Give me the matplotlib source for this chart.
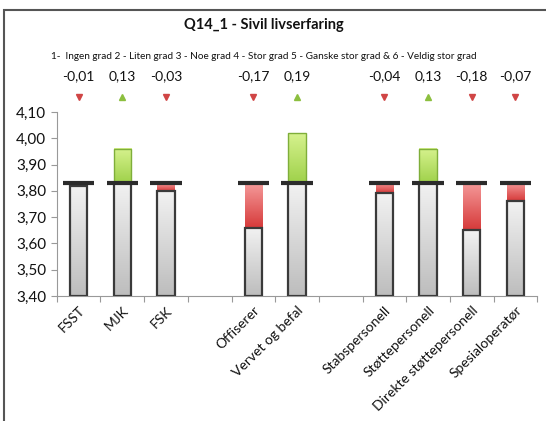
import numpy as np
import matplotlib.pyplot as plt
from matplotlib.patches import Rectangle
from matplotlib.transforms import blended_transform_factory

plt.rcParams['font.family'] = ['Lato', 'DejaVu Sans']

# slots on the x axis, empty strings are gaps between groups
categories = ['FSST', 'MJK', 'FSK', '', 'Offiserer', 'Vervet og befal', '',
              'Stabspersonell', 'Støttepersonell', 'Direkte støttepersonell', 'Spesialoperatør']
values = [3.82, 3.96, 3.80, None, 3.66, 4.02, None, 3.79, 3.96, 3.65, 3.76]
deltas = [-0.01, 0.13, -0.03, None, -0.17, 0.19, None, -0.04, 0.13, -0.18, -0.07]
mean_value = 3.83
y_ticks = [3.40, 3.50, 3.60, 3.70, 3.80, 3.90, 4.00, 4.10]

title = 'Q14_1 - Sivil livserfaring'
scale_text = '1-  Ingen grad 2 - Liten grad 3 - Noe grad 4 - Stor grad 5 - Ganske stor grad & 6 - Veldig stor grad'

fig = plt.figure(figsize=(5.46, 4.21), dpi=100)
ax = fig.add_axes([0.104, 0.297, 0.880, 0.437])

ymin, ymax = 3.40, 4.10
bar_w = 0.40
line_w = 0.72


def gradient_bar(x, y0, y1, top_color, bottom_color):
    lo, hi = min(y0, y1), max(y0, y1)
    grad = np.linspace(0, 1, 64).reshape(-1, 1)
    c_top = np.array(plt.matplotlib.colors.to_rgb(top_color))
    c_bot = np.array(plt.matplotlib.colors.to_rgb(bottom_color))
    img = c_top * (1 - grad[..., None]) + c_bot * grad[..., None]
    ax.imshow(img, extent=[x - bar_w / 2, x + bar_w / 2, lo, hi], origin='upper',
              aspect='auto', zorder=2, interpolation='bilinear')


for i, v in enumerate(values):
    if v is None:
        continue
    base_top = min(v, mean_value)
    gradient_bar(i, ymin, base_top, '#f2f2f2', '#bdbdbd')
    ax.add_patch(Rectangle((i - bar_w / 2, ymin), bar_w, base_top - ymin, fill=False,
                           edgecolor='#3a3a3a', linewidth=1.6, zorder=3))
    if v > mean_value:
        gradient_bar(i, mean_value, v, '#d6f28e', '#9fd14a')
        ax.add_patch(Rectangle((i - bar_w / 2, mean_value), bar_w, v - mean_value, fill=False,
                               edgecolor='#7fae3a', linewidth=1.0, zorder=3))
    elif v < mean_value:
        gradient_bar(i, mean_value, v, '#f59a9a', '#d63a3a')
    ax.plot([i - line_w / 2, i + line_w / 2], [mean_value, mean_value],
            color='#2b2b2b', linewidth=3, solid_capstyle='butt', zorder=4)

# deltas and arrows above the plot
trans = blended_transform_factory(ax.transData, ax.transAxes)
for i, d in enumerate(deltas):
    if d is None:
        continue
    label = f'{d:.2f}'.replace('.', ',')
    ax.text(i, 1.195, label, transform=trans, ha='center', va='center', fontsize=10, color='#111111')
    if d < 0:
        ax.plot(i, 1.082, marker='v', color='#d04545', markersize=4.5, transform=trans, clip_on=False)
    else:
        ax.plot(i, 1.082, marker='^', color='#8cbf3f', markersize=4.5, transform=trans, clip_on=False)

ax.set_xlim(-0.5, len(categories) - 0.5)
ax.set_ylim(ymin, ymax)
ax.set_yticks(y_ticks)
ax.set_yticklabels([f'{t:.2f}'.replace('.', ',') for t in y_ticks], fontsize=11, color='#111111')
ax.set_xticks(np.arange(len(categories) + 1) - 0.5, minor=False)
ax.set_xticklabels([])
ax.set_xticks(np.arange(len(categories)), minor=True)
ax.set_xticklabels(categories, minor=True, rotation=45, ha='right', rotation_mode='anchor',
                   fontsize=10, color='#111111')
ax.tick_params(axis='x', which='minor', length=0, pad=6)
ax.tick_params(axis='x', which='major', length=4, color='#999999')
ax.tick_params(axis='y', length=4, color='#999999')
for s in ['top', 'right']:
    ax.spines[s].set_visible(False)
for s in ['left', 'bottom']:
    ax.spines[s].set_color('#999999')

fig.text(0.484, 0.94, title, ha='center', va='center', fontsize=10.5, fontweight='bold', color='#111111')
fig.text(0.484, 0.865, scale_text, ha='center', va='center', fontsize=7.2, color='#111111')

# chart frame
fig.patches.append(Rectangle((0.008, -0.05), 1.2, 1.027, transform=fig.transFigure,
                             fill=False, edgecolor='#555555', linewidth=1.5))

fig.savefig('out.png', dpi=100)
